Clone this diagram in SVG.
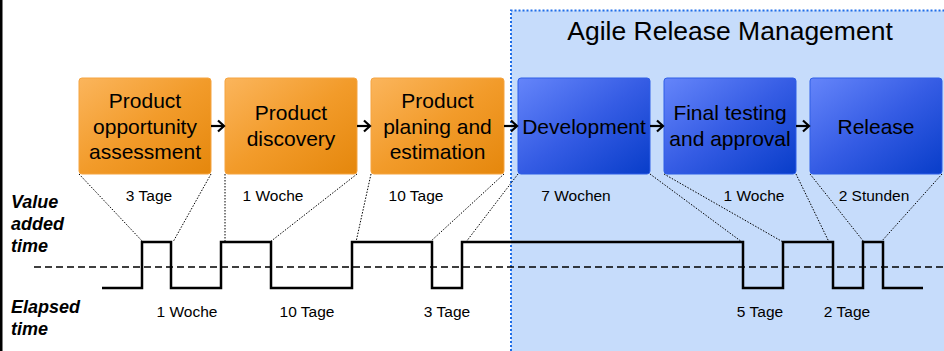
<svg xmlns="http://www.w3.org/2000/svg" width="944" height="351" viewBox="0 0 944 351">
<defs>
<linearGradient id="gOrange" x1="0" y1="0" x2="1" y2="1">
<stop offset="0" stop-color="#FBB55C"/>
<stop offset="0.5" stop-color="#F29B2A"/>
<stop offset="1" stop-color="#E5870C"/>
</linearGradient>
<linearGradient id="gBlue" x1="0" y1="0" x2="1" y2="1">
<stop offset="0" stop-color="#6585FA"/>
<stop offset="0.5" stop-color="#355CE4"/>
<stop offset="1" stop-color="#083DC9"/>
</linearGradient>
<marker id="arr" markerWidth="12" markerHeight="14" refX="8" refY="7" orient="auto" markerUnits="userSpaceOnUse">
<path d="M2,1.5 L8,7 L2,12.5" fill="none" stroke="#000" stroke-width="2.2"/>
</marker>
<style>
.box-o{fill:url(#gOrange);stroke:#F5A440;stroke-width:1}
.box-b{fill:url(#gBlue);stroke:#2F5FE6;stroke-width:1}
.bt{font-family:"Liberation Sans",Arial,sans-serif;font-size:21px;fill:#000;text-anchor:middle}
.lbl{font-family:"Liberation Sans",Arial,sans-serif;font-size:15.5px;fill:#000;text-anchor:middle}
.side{font-family:"Liberation Sans",Arial,sans-serif;font-size:18px;font-weight:bold;font-style:italic;fill:#000}
.lead{stroke:#000;stroke-width:1;stroke-dasharray:1.5 1.5;fill:none}
.conn{stroke:#000;stroke-width:2.2;fill:none}
</style>
</defs>
<rect x="0" y="0" width="944" height="351" fill="#fff"/>
<rect x="0" y="0" width="2.5" height="351" fill="#000"/>
<g id="agile-region">
<rect x="511" y="10.5" width="434" height="341" fill="#C6DCFB"/>
<path d="M511,351 L511,10.5 L944,10.5" fill="none" stroke="#1D6CE8" stroke-width="2" stroke-dasharray="2 2"/>
<text x="730" y="40" font-family="'Liberation Sans',Arial,sans-serif" font-size="26.5" text-anchor="middle" fill="#000">Agile Release Management</text>
</g>
<g id="side-labels">
<text class="side" x="11" y="208">Value</text>
<text class="side" x="11" y="230">added</text>
<text class="side" x="11" y="252">time</text>
<text class="side" x="11" y="313">Elapsed</text>
<text class="side" x="11" y="335">time</text>
</g>
<g id="n1">
<rect class="box-o" x="79" y="78" width="132" height="96" rx="3"/>
<text class="bt" x="145" y="108">Product</text>
<text class="bt" x="145" y="134">opportunity</text>
<text class="bt" x="145" y="159">assessment</text>
</g>
<g id="n2">
<rect class="box-o" x="225" y="78" width="132" height="96" rx="3"/>
<text class="bt" x="291" y="120">Product</text>
<text class="bt" x="291" y="146">discovery</text>
</g>
<g id="n3">
<rect class="box-o" x="371" y="78" width="133" height="96" rx="3"/>
<text class="bt" x="437.5" y="108">Product</text>
<text class="bt" x="437.5" y="134">planing and</text>
<text class="bt" x="437.5" y="159">estimation</text>
</g>
<g id="n4">
<rect class="box-b" x="518" y="78" width="132" height="96" rx="3"/>
<text class="bt" x="584" y="134">Development</text>
</g>
<g id="n5">
<rect class="box-b" x="664" y="78" width="132" height="96" rx="3"/>
<text class="bt" x="730" y="120">Final testing</text>
<text class="bt" x="730" y="146">and approval</text>
</g>
<g id="n6">
<rect class="box-b" x="810" y="78" width="132" height="96" rx="3"/>
<text class="bt" x="876" y="134">Release</text>
</g>
<g id="connectors">
<line class="conn" x1="211" y1="126" x2="224" y2="126" marker-end="url(#arr)"/>
<line class="conn" x1="357" y1="126" x2="370" y2="126" marker-end="url(#arr)"/>
<line class="conn" x1="504" y1="126" x2="517" y2="126" marker-end="url(#arr)"/>
<line class="conn" x1="650" y1="126" x2="663" y2="126" marker-end="url(#arr)"/>
<line class="conn" x1="796" y1="126" x2="809" y2="126" marker-end="url(#arr)"/>
</g>
<g id="leaders">
<line class="lead" x1="79" y1="174" x2="143" y2="242"/>
<line class="lead" x1="211" y1="174" x2="173" y2="242"/>
<line class="lead" x1="225" y1="174" x2="225" y2="242"/>
<line class="lead" x1="357" y1="174" x2="270" y2="242"/>
<line class="lead" x1="371" y1="174" x2="356" y2="242"/>
<line class="lead" x1="504" y1="174" x2="430" y2="242"/>
<line class="lead" x1="518" y1="174" x2="466" y2="242"/>
<line class="lead" x1="650" y1="174" x2="742" y2="242"/>
<line class="lead" x1="664" y1="174" x2="783" y2="242"/>
<line class="lead" x1="796" y1="174" x2="829" y2="242"/>
<line class="lead" x1="810" y1="174" x2="864" y2="242"/>
<line class="lead" x1="942" y1="174" x2="881" y2="242"/>
</g>
<g id="timeline">
<line x1="34" y1="267" x2="944" y2="267" stroke="#000" stroke-width="1.5" stroke-dasharray="7 4"/>
<polyline fill="none" stroke="#000" stroke-width="2.5" points="102,288 142,288 142,242 171,242 171,288 221,288 221,242 271,242 271,288 352,288 352,242 432,242 432,288 462,288 462,242 743,242 743,288 783,288 783,242 833,242 833,288 863,288 863,242 883,242 883,288 923,288"/>
</g>
<g id="durations">
<text class="lbl" x="149" y="201">3 Tage</text>
<text class="lbl" x="273" y="201">1 Woche</text>
<text class="lbl" x="416" y="201">10 Tage</text>
<text class="lbl" x="576" y="201">7 Wochen</text>
<text class="lbl" x="754" y="201">1 Woche</text>
<text class="lbl" x="874" y="201">2 Stunden</text>
<text class="lbl" x="187" y="317">1 Woche</text>
<text class="lbl" x="307" y="317">10 Tage</text>
<text class="lbl" x="447" y="317">3 Tage</text>
<text class="lbl" x="760" y="317">5 Tage</text>
<text class="lbl" x="847" y="317">2 Tage</text>
</g>
</svg>
